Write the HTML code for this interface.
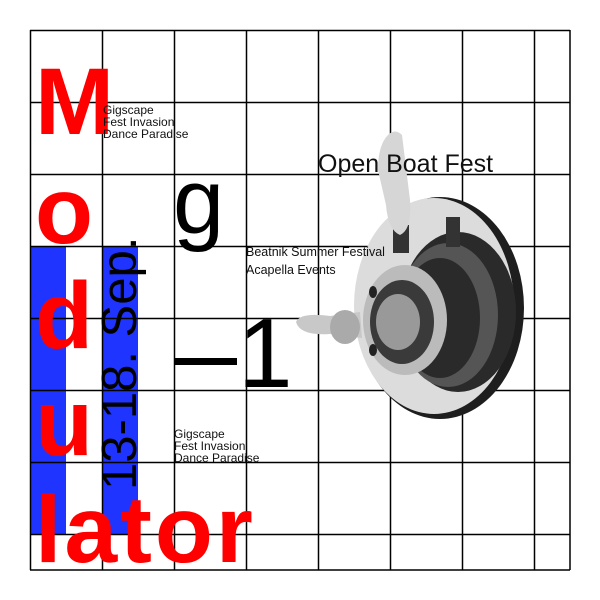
<!DOCTYPE html>
<html><head><meta charset="utf-8"><style>
body{margin:0;width:600px;height:600px;background:#fff;position:relative;overflow:hidden;font-family:"Liberation Sans",Arial,sans-serif}
.a{position:absolute;white-space:nowrap}
.red{color:#ff0000;font-weight:bold;font-size:95px;line-height:107px}
.sm{font-size:12px;line-height:12px;color:#111}
</style></head><body>
<div class="a" style="left:31px;top:246px;width:35px;height:288px;background:#1f35ff"></div>
<div class="a" style="left:102px;top:246px;width:36px;height:288px;background:#1f35ff"></div>
<svg class="a" style="left:0;top:0" width="600" height="600">
<g stroke="#000" stroke-width="1.5" fill="none">
<path d="M30.5 30V570M102.5 30V570M174.5 30V570M246.5 30V570M318.5 30V570M390.5 30V570M462.5 30V570M534.5 30V570M570 30V570"/>
<path d="M30 30.5H570M30 102.5H570M30 174.5H570M30 246.5H570M30 318.5H570M30 390.5H570M30 462.5H570M30 534.5H570M30 570H570"/>
</g>
<g>
<ellipse cx="440" cy="308" rx="84" ry="111" fill="#1e1e1e"/>
<ellipse cx="434" cy="306" rx="80" ry="108" fill="#dcdcdc"/>
<ellipse cx="458" cy="312" rx="58" ry="80" fill="#2a2a2a"/>
<ellipse cx="448" cy="315" rx="50" ry="72" fill="#555"/>
<ellipse cx="440" cy="318" rx="40" ry="60" fill="#2a2a2a"/>
<ellipse cx="405" cy="320" rx="42" ry="55" fill="#bbb"/>
<ellipse cx="402" cy="322" rx="32" ry="42" fill="#3a3a3a"/>
<ellipse cx="398" cy="322" rx="22" ry="28" fill="#999"/>
<rect x="446" y="217" width="14" height="30" fill="#333"/>
<rect x="393" y="225" width="16" height="28" fill="#333"/>
<path d="M388 135 Q395 128 402 135 L410 200 Q412 230 400 235 Q388 230 386 205 L378 170 Q378 145 388 135Z" fill="#d6d6d6"/>
<path d="M296 322 Q300 312 330 316 L360 312 L362 338 L330 334 Q300 336 296 322Z" fill="#c8c8c8"/>
<ellipse cx="345" cy="327" rx="15" ry="17" fill="#aaa"/>
<ellipse cx="373" cy="292" rx="4" ry="6" fill="#222"/>
<ellipse cx="373" cy="350" rx="4" ry="6" fill="#222"/>
</g>
</svg>
<div class="a red" style="left:35px;top:49px">M</div>
<div class="a red" style="left:35px;top:158px">o</div>
<div class="a red" style="left:35px;top:263px">d</div>
<div class="a red" style="left:35px;top:370px">u</div>
<div class="a red" style="left:35px;top:477px;letter-spacing:3px">lator</div>
<div class="a sm" style="left:103px;top:104px">Gigscape<br>Fest Invasion<br>Dance Paradise</div>
<div class="a sm" style="left:174px;top:428px">Gigscape<br>Fest Invasion<br>Dance Paradise</div>
<div class="a" style="left:246px;top:243px;font-size:12.5px;line-height:18px;color:#111">Beatnik Summer Festival<br>Acapella Events</div>
<div class="a" style="left:318px;top:150px;font-size:25px;line-height:28px;color:#111">Open Boat Fest</div>
<div class="a" style="left:173px;top:156px;font-size:92px;line-height:92px">g</div>
<div class="a" style="left:174px;top:358px;width:63px;height:7px;background:#000"></div>
<div class="a" style="left:238px;top:304px;font-size:98px;line-height:98px">1</div>
<div class="a" style="left:96px;top:490px;font-size:49px;line-height:49px;transform-origin:0 0;transform:rotate(-90deg)">13-18. Sep.</div>
</body></html>
